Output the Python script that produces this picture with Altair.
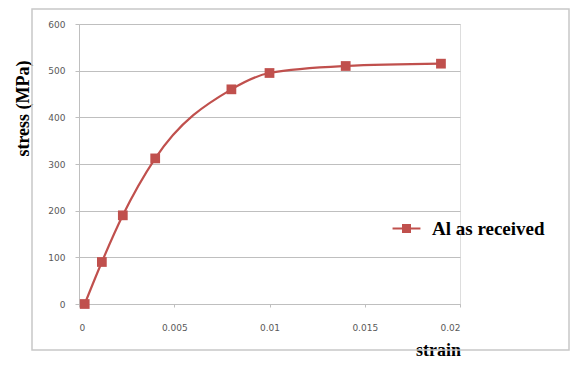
import altair as alt
import pandas as pd

strain = [0.0003, 0.0012, 0.0023, 0.004, 0.008, 0.01, 0.014, 0.019]
stress = [0, 90, 190, 312, 460, 495, 510, 515]
series = "Al as received"

df = pd.DataFrame({"strain": strain, "stress": stress, "series": [series] * len(strain)})

RED = "#c0504d"
GRAY = "#595959"
GRID = "#bfbfbf"

color = alt.Color(
    "series:N",
    scale=alt.Scale(domain=[series], range=[RED]),
    legend=alt.Legend(
        title=None,
        orient="none",
        legendX=318,
        legendY=195,
        symbolType="M-1.55,-0.1H1.55V0.1H-1.55Z M-0.5,-0.5H0.5V0.5H-0.5Z",
        symbolSize=324,
        symbolFillColor=RED,
        symbolStrokeColor=RED,
        symbolStrokeWidth=0,
        labelFont="Liberation Serif",
        labelFontWeight="bold",
        labelFontSize=19,
        labelColor="#000000",
        labelOffset=16,
    ),
)

x = alt.X(
    "strain:Q",
    scale=alt.Scale(domain=[0, 0.02], nice=False),
    axis=alt.Axis(
        values=[0, 0.005, 0.01, 0.015, 0.02],
        labelExpr="datum.value == 0 ? '0' : format(datum.value, '~g')",
        grid=False,
        domainColor=GRID,
        tickColor=GRID,
        tickSize=3,
        labelPadding=16,
        labelFont="DejaVu Sans",
        labelFontSize=9,
        labelColor=GRAY,
        title="strain",
        titleFont="Liberation Serif",
        titleFontWeight="bold",
        titleFontSize=18,
        titleColor="#000000",
        titleX=359,
        titleY=46,
        titleAlign="center",
        titleBaseline="middle",
    ),
)

y = alt.Y(
    "stress:Q",
    scale=alt.Scale(domain=[0, 600], nice=False),
    axis=alt.Axis(
        values=[0, 100, 200, 300, 400, 500, 600],
        gridColor=GRID,
        gridWidth=1,
        domainColor=GRID,
        tickColor=GRID,
        tickSize=4,
        labelPadding=10,
        labelFont="DejaVu Sans",
        labelFontSize=9,
        labelColor=GRAY,
        title="stress (MPa)",
        titleFont="Liberation Serif",
        titleFontWeight="bold",
        titleFontSize=18,
        titleColor="#000000",
        titleAngle=-90,
        titleX=-56,
        titleY=84,
        titleAlign="center",
        titleBaseline="middle",
    ),
)

border = alt.Chart(pd.DataFrame({"a": [0]})).mark_rect(
    fill=None, stroke="#c8c8c8", strokeWidth=1.5, clip=False
).encode(
    x=alt.value(-47), x2=alt.value(490), y=alt.value(-15), y2=alt.value(326)
)

line = alt.Chart(df).mark_line(interpolate="monotone", strokeWidth=2.2).encode(x=x, y=y, color=color)
points = alt.Chart(df).mark_point(shape="square", filled=True, size=95, opacity=1).encode(
    x=x, y=y, color=alt.Color("series:N", scale=alt.Scale(domain=[series], range=[RED]), legend=None)
)

chart = alt.layer(border, line, points).properties(
    width=381,
    height=280,
    autosize=alt.AutoSizeParams(type="none"),
    padding={"left": 71, "top": 16, "right": 111, "bottom": 56},
).configure_view(stroke=None).configure(background="white")

chart.save("out.html", embed_options={"renderer": "svg", "actions": False})
